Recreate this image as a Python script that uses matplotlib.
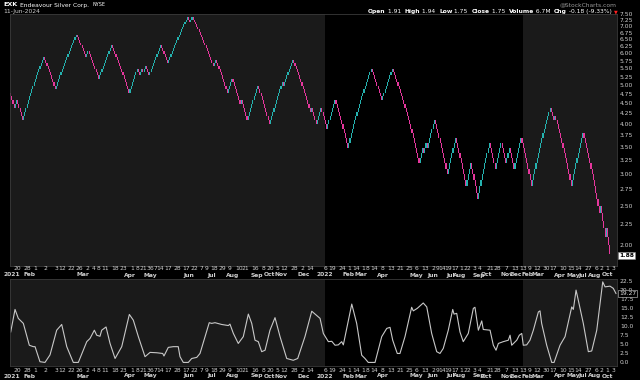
import numpy as np
import matplotlib
matplotlib.use("Agg")
import matplotlib.pyplot as plt
from matplotlib.transforms import blended_transform_factory

# ---------------- data ----------------
box = 0.10
start_boxes = 48          # start level in boxes (4.80)
legs = [-4, 2, -5, 18, -10, 18, -8, 2, -9, 11, -15, 7, -2, 2, -1, 2, -3, 10, -6, 17,
        -2, 2, -18, 2, -10, 4, -7, 1, -5, 9, -10, 11, -1, 8, -15, 1, -4, 4, -5, 7,
        -11, 20, -9, 9, -23, 3, -1, 2, -1, 6, -11, 7, -9, 4, -6, 10, -5, 5, -4, 3,
        -4, 6, -9, 16, -3, 1, -14, 10, -14, 1, -4, 1, -3]

osc_x = [0, 3.7, 6.5, 10.8, 15.9, 19.3, 20.8, 25, 29.3, 33.6, 39.3, 43.6, 47.9, 53.5, 57.8,
         65, 67.8, 71.5, 73.5, 76.3, 77.8, 81.5, 84.9, 89.2, 94.9, 101.4, 104.8, 109.1,
         114.8, 119.1, 124.8, 129.9, 131, 134.7, 139, 143.2, 144.7, 147.5, 151.8, 154.7,
         159, 161.8, 169.7, 171.8, 174.6, 180.3, 186, 187.4, 190.3, 194.5, 198.8, 203.1,
         206, 208.8, 211.6, 214.5, 217.4, 221.6, 225.9, 230.2, 235.9, 241.5, 245.3, 251.5,
         257.3, 262.9, 264.4, 267.2, 271.5, 274.4, 277.2, 280, 282.9, 284.3, 291.5, 295.7,
         300, 302.8, 305.6, 311.4, 317.1, 321.4, 324.2, 326.5, 330.4, 332.7, 337, 342.7,
         344.1, 347.5, 352.6, 355.6, 359.8, 364.1, 366.9, 369.7, 374, 377.8, 378.9, 381.2,
         384, 386.8, 391.1, 395.4, 396.8, 399.7, 402.6, 403.9, 409.7, 412.5, 414.8, 416.8,
         421, 425.3, 426.8, 428.2, 432.5, 434.7, 436.8, 438.1, 441, 443.8, 446.7, 451,
         452.4, 453.8, 458.1, 462.4, 464.4, 469.5, 473.8, 479.5, 480.9, 483.2, 485.1,
         489.4, 493.7, 496.6, 500.9, 506, 508, 512.2, 515, 517.3]
osc_y = [8.5, 14.8, 12.3, 10.9, 4.8, 4.4, 4.4, 0.2, 0.0, 2.1, 9.0, 10.6, 4.4, 0.0, 0.0,
         5.8, 6.7, 9.0, 7.6, 7.3, 9.0, 9.9, 5.3, 1.1, 4.4, 13.4, 11.8, 7.2,
         1.6, 2.8, 2.7, 2.5, 1.8, 4.2, 4.4, 4.4, 1.6, 0.0, 0.0, 1.1,
         1.4, 2.5, 11.1, 10.9, 11.1, 10.6, 10.3, 10.7, 8.1, 5.3, 7.2, 13.5,
         10.9, 6.2, 5.8, 3.0, 3.4, 9.0, 12.5, 7.2, 1.1, 0.6, 1.1, 7.2,
         14.3, 12.7, 12.3, 8.1, 5.8, 5.9, 4.8, 4.9, 5.8, 4.9, 16.3, 10.9,
         2.0, 1.1, 0.0, 0.0, 7.2, 9.5, 9.8, 6.2, 2.5, 2.5, 7.2, 15.4,
         14.4, 15.1, 16.6, 15.5, 8.1, 3.0, 2.5, 3.9, 9.0, 14.8, 13.5, 13.7,
         8.5, 5.8, 8.1, 15.1, 15.4, 9.0, 11.6, 9.2, 9.0, 4.8, 3.4, 5.3,
         5.8, 6.2, 7.6, 4.8, 6.2, 7.6, 8.1, 4.8, 4.9, 6.2, 9.0, 14.1,
         14.4, 10.9, 4.8, 0.0, 0.0, 4.8, 7.2, 15.5, 14.8, 20.2, 17.4,
         10.9, 3.0, 3.2, 9.0, 22.5, 21.1, 21.3, 20.7, 19.27]

day_pos = [6, 14, 21, 30, 39, 44, 52, 59, 66, 71, 75, 81, 89, 96, 104, 108, 113, 118, 120,
           124, 128, 135, 142, 150, 157, 163, 167, 174, 181, 187, 195, 201, 209, 216, 222,
           228, 234, 242, 249, 256,
           269, 275, 283, 289, 295, 301, 305, 311, 318, 325, 333, 341, 347, 354, 361, 365,
           369, 374, 380, 385, 390, 396, 401, 410, 416, 424, 431,
           438, 443, 450, 458, 464, 472, 479, 485, 494, 501, 505, 510, 515]
day_lab = ["20", "28", "1", "2", "3", "12", "22", "26", "2", "4", "8", "11", "18", "23", "1",
           "8", "21", "3", "6", "7", "14", "17", "28", "17", "22", "7", "9", "18", "29", "9",
           "10", "21", "16", "8", "20", "5", "12", "28", "2", "14",
           "6", "19", "24", "1", "14", "1", "8", "14", "8", "13", "21", "25", "6", "13", "2",
           "9", "14", "19", "17", "1", "22", "3", "4", "21", "28", "7", "13",
           "13", "9", "12", "30", "17", "10", "15", "14", "27", "6", "2", "1", "3"]
mon_pos = [16, 62, 102, 119, 152, 172, 190, 210, 221, 231, 250,
           268.5, 289, 299, 318, 347, 361, 376, 384, 400, 407, 424, 432,
           442, 451, 469, 481, 489, 499, 510]
mon_lab = ["Feb", "Mar", "Apr", "May", "Jun", "Jul", "Aug", "Sep", "Oct", "Nov", "Dec",
           "2022", "Feb", "Mar", "Apr", "May", "Jun", "Jul", "Aug", "Sep", "Oct", "Nov", "Dec",
           "Feb", "Mar", "Apr", "May", "Jul", "Aug", "Oct"]
price_ticks = [7.50, 7.25, 7.00, 6.75, 6.50, 6.25, 6.00, 5.75, 5.50, 5.25, 5.00, 4.75,
               4.50, 4.25, 4.00, 3.75, 3.50, 3.25, 3.00, 2.75, 2.50, 2.25, 2.00]
osc_ticks = [22.5, 20.0, 17.5, 15.0, 12.5, 10.0, 7.5, 5.0, 2.5, 0.0]
year2022 = (268.5, 437.5)
last_price_label = "1.88"
last_osc_label = "19.27"

# ---------------- bricks ----------------
lo, hi, col = [], [], []
lvl = start_boxes
for n in legs:
    d = 1 if n > 0 else -1
    for _ in range(abs(n)):
        new = lvl + d
        lo.append(min(lvl, new) * box)
        hi.append(max(lvl, new) * box)
        col.append("#25b3b0" if d > 0 else "#e6379d")
        lvl = new
lo = np.array(lo); hi = np.array(hi)
idx = np.arange(len(lo))

# ---------------- figure ----------------
W, H = 640, 380
fig = plt.figure(figsize=(6.4, 3.8), dpi=100, facecolor="black")
def fx(px): return px / W
def fy(py): return 1 - py / H

L, R = 10, 617
XMAX = 518.2
ax = fig.add_axes([fx(L), fy(266), fx(R - L), (266 - 14) / H])
ax2 = fig.add_axes([fx(L), fy(366), fx(R - L), (366 - 279) / H])

panel = "#1a1a1a"
for a in (ax, ax2):
    a.set_facecolor(panel)
    a.axvspan(year2022[0], year2022[1], color="black", zorder=0, lw=0)
    a.set_xlim(-0.6, XMAX)
    a.set_xticks([]); a.set_yticks([])
    for s in a.spines.values():
        s.set_color("#3a3a3a"); s.set_linewidth(0.6)

ax.set_yscale("log")
ax.set_ylim(1.773, 7.54)
ax.minorticks_off()
ax.set_yticks([])
ax.bar(idx, hi - lo, bottom=lo, width=0.95, color=col, linewidth=0, zorder=2)

ax2.set_ylim(-1.0, 23.3)
ax2.plot(osc_x, osc_y, color="#c8c8c8", lw=0.8, zorder=2)

txtc = "#d0d0d0"
fs = 4.3
# right price labels
tr = blended_transform_factory(fig.transFigure, ax.transData)
for p in price_ticks:
    fig.text(fx(620), p, f"{p:.2f}", transform=tr, fontsize=fs, color=txtc,
             va="center", ha="left")
fig.text(fx(619), 1.88, last_price_label, transform=tr, fontsize=fs, color="black",
         va="center", ha="left", fontweight="bold",
         bbox=dict(boxstyle="square,pad=0.15", fc="white", ec="#888", lw=0.4))
tr2 = blended_transform_factory(fig.transFigure, ax2.transData)
for v in osc_ticks:
    fig.text(fx(620), v, f"{v:.1f}", transform=tr2, fontsize=fs, color=txtc,
             va="center", ha="left")
fig.text(fx(619), 19.27, last_osc_label, transform=tr2, fontsize=fs, color="#e0e0e0",
         va="center", ha="left", zorder=5,
         bbox=dict(boxstyle="square,pad=0.15", fc="black", ec="#cccccc", lw=0.4))

# date labels
for a, yd, ym in ((ax, 269, 275), (ax2, 370.5, 376)):
    t = blended_transform_factory(a.transData, fig.transFigure)
    for p, s in zip(day_pos, day_lab):
        fig.text(p, fy(yd), s, transform=t, fontsize=fs, color=txtc, ha="center", va="center")
    for p, s in zip(mon_pos, mon_lab):
        fig.text(p, fy(ym), s, transform=t, fontsize=fs, color=txtc, ha="center",
                 va="center", fontweight="bold")
    fig.text(fx(3), fy(ym), "2021", fontsize=fs, color=txtc, ha="left", va="center",
             fontweight="bold")

# header
rend = fig.canvas.get_renderer()
t0 = fig.text(fx(3), fy(5), "EXK", fontsize=4.6, color="white", fontweight="bold", va="center")
xpix = 3 + t0.get_window_extent(renderer=rend).width + 3
t1 = fig.text(fx(xpix), fy(5), "Endeavour Silver Corp.", fontsize=4.3, color="white", va="center")
xpix += t1.get_window_extent(renderer=rend).width + 3
fig.text(fx(xpix), fy(5), "NYSE", fontsize=3.5, color="white", va="center")
fig.text(fx(3), fy(12), "11-Jun-2024", fontsize=4.3, color=txtc, va="center")
fig.text(fx(617), fy(5), "@StockCharts.com", fontsize=4.3, color="#9a9a9a", va="center", ha="right")

parts = [("Open", True), (" 1.91  ", False), ("High", True), (" 1.94  ", False),
         ("Low", True), (" 1.75  ", False), ("Close", True), (" 1.75  ", False),
         ("Volume", True), (" 6.7M  ", False), ("Chg", True), (" -0.18 (-9.33%)", False)]
hdr = []
for s, b in parts:
    t = fig.text(0, fy(11.5), s, fontsize=4.3, color="white",
                 fontweight="bold" if b else "normal", va="center", ha="left")
    hdr.append((t, t.get_window_extent(renderer=rend).width))
total = sum(w for _, w in hdr)
xpix = 612 - total
for t, w in hdr:
    t.set_x(fx(xpix))
    xpix += w
fig.text(fx(xpix + 2), fy(11.5), "\u25bc", fontsize=3.5, color="#ff2020", va="center", ha="left")

fig.savefig("out.png", dpi=100, facecolor="black")
